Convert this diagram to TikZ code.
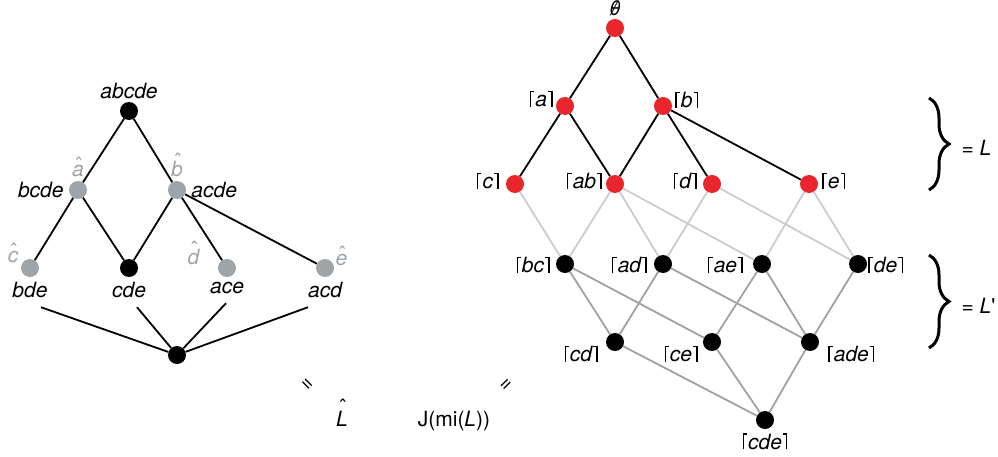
\documentclass[tikz,border=0pt]{standalone}
\usepackage{fontspec}
\setmainfont{TeX Gyre Heros}
\usepackage{tikz}
\usetikzlibrary{positioning, decorations.pathreplacing}
\definecolor{latred}{RGB}{232, 38, 44}
\definecolor{hatgray}{RGB}{158, 164, 168}
\definecolor{edgelight}{RGB}{201, 205, 209}
\definecolor{edgemid}{RGB}{157, 162, 166}
% ceiling brackets and hats
\newcommand{\lcl}{\rule{0.055em}{0.76em}\kern-0.055em\rule[0.705em]{0.2em}{0.055em}\kern0.06em}
\newcommand{\rcl}{\kern0.06em\rule[0.705em]{0.2em}{0.055em}\kern-0.055em\rule{0.055em}{0.76em}}
\newcommand{\ceilset}[1]{\lcl\textit{#1}\rcl}
\newcommand{\hatted}[2][3pt]{\leavevmode\setbox0\hbox{\itshape #2}%
  \ooalign{\copy0\cr\hidewidth\kern0.08em\raisebox{\dimexpr\ht0-0.5em+#1\relax}{\upshape\char"02C6}\hidewidth\cr}}
\newcommand{\emptysym}{\ooalign{\textit{θ}\cr\hidewidth\textit{/}\hidewidth\cr}}

\begin{document}
\begin{tikzpicture}[
        x=1pt, y=-1pt,
        font=\fontsize{21}{24}\selectfont,
        dot/.style={circle, fill=black, minimum size=18pt, inner sep=0pt},
        reddot/.style={dot, fill=latred},
        graydot/.style={dot, fill=hatgray},
        lbl/.style={font=\fontsize{21}{24}\selectfont\itshape, inner sep=1pt},
        hatlbl/.style={lbl, text=hatgray},
        cover/.style={line width=1.8pt},
        lightcover/.style={line width=1.8pt, draw=edgelight},
        midcover/.style={line width=1.8pt, draw=edgemid},
        bracestyle/.style={line width=3pt, decorate, decoration={brace, amplitude=20pt}},
        node distance=2pt,
    ]
        \useasboundingbox (0,0) rectangle (998,457);

        % --- Left lattice: nodes ---
        \node[dot] (abcde) at (129,111) {};
        \node[graydot] (bcde) at (78,190) {};
        \node[graydot] (acde) at (177,190) {};
        \node[graydot] (bde) at (30,268) {};
        \node[dot] (cde) at (129,268) {};
        \node[graydot] (ace) at (227,268) {};
        \node[graydot] (acd) at (325,268) {};
        \node[dot] (bot) at (177,355) {};

        % --- Left lattice: labels ---
        \node[lbl, above=2pt of abcde] (l-abcde) {abcde};
        \node[lbl, left=4pt of bcde] (l-bcde) {bcde};
        \node[lbl, right=4pt of acde] (l-acde) {acde};
        \node[lbl, below=4pt of bde] (l-bde) {bde};
        \node[lbl, below=4pt of cde] (l-cde) {cde};
        \node[lbl, below=4pt of ace] (l-ace) {ace};
        \node[lbl, below=4pt of acd] (l-acd) {acd};
        \node[hatlbl, above=3pt of bcde] (h-a) {\hatted{a}};
        \node[hatlbl, above=3pt of acde] (h-b) {\hatted{b}};
        \node[hatlbl, above left=-2pt and 4pt of bde] (h-c) {\hatted{c}};
        \node[hatlbl, above left=-4pt and 20pt of ace] (h-d) {\hatted{d}};
        \node[hatlbl, above right=-5pt and 3pt of acd] (h-e) {\hatted{e}};

        % --- Left lattice: edges ---
        \draw[cover] (abcde) -- (bcde);
        \draw[cover] (abcde) -- (acde);
        \draw[cover] (bcde) -- (bde);
        \draw[cover] (bcde) -- (cde);
        \draw[cover] (acde) -- (cde);
        \draw[cover] (acde) -- (ace);
        \draw[cover] (acde) -- (acd);
        \draw[cover] ([shift={(11,8)}]l-bde.south) -- (bot);
        \draw[cover] ([shift={(8,8)}]l-cde.south) -- (bot);
        \draw[cover] ([shift={(-1,8)}]l-ace.south) -- (bot);
        \draw[cover] ([shift={(-17,8)}]l-acd.south) -- (bot);

        % --- Middle: equalities ---
        \node[rotate=-45] (eq-left) at (307,385) {=};
        \node[lbl, anchor=base] (lhat) at (342,426) {\hatted[7pt]{L}};
        \node[rotate=45] (eq-right) at (507,385) {=};
        \node (jmi) at (454,421) {J(mi(\textit{L}))};

        % --- Right lattice: nodes ---
        \node[reddot] (jempty) at (615,28) {};
        \node[reddot] (ja) at (565,106) {};
        \node[reddot] (jb) at (663,106) {};
        \node[reddot] (jc) at (515,184) {};
        \node[reddot] (jab) at (615,184) {};
        \node[reddot] (jd) at (712,184) {};
        \node[reddot] (je) at (809,184) {};
        \node[dot] (jbc) at (565,264) {};
        \node[dot] (jad) at (663,264) {};
        \node[dot] (jae) at (762,264) {};
        \node[dot] (jde) at (858,264) {};
        \node[dot] (jcd) at (615,342) {};
        \node[dot] (jce) at (712,342) {};
        \node[dot] (jade) at (810,342) {};
        \node[dot] (jcde) at (765,420) {};

        % --- Right lattice: labels ---
        \node[lbl, above=2pt of jempty, font=\fontsize{20}{22}\selectfont] (l-jempty) {\emptysym};
        \node[lbl, left=2pt of ja, yshift=7pt] (l-ja) {\ceilset{a}};
        \node[lbl, right=2pt of jb, yshift=6pt] (l-jb) {\ceilset{b}};
        \node[lbl, left=6pt of jc, yshift=3pt] (l-jc) {\ceilset{c}};
        \node[lbl, left=3pt of jab, yshift=3pt] (l-jab) {\ceilset{ab}};
        \node[lbl, left=5pt of jd, yshift=3pt] (l-jd) {\ceilset{d}};
        \node[lbl, right=3pt of je, yshift=3pt] (l-je) {\ceilset{e}};
        \node[lbl, left=5pt of jbc, yshift=-1pt] (l-jbc) {\ceilset{bc}};
        \node[lbl, left=6pt of jad, yshift=-1pt] (l-jad) {\ceilset{ad}};
        \node[lbl, left=9pt of jae, yshift=-1pt] (l-jae) {\ceilset{ae}};
        \node[lbl, right=0pt of jde, yshift=-1pt] (l-jde) {\ceilset{de}};
        \node[lbl, left=7pt of jcd, yshift=-12pt] (l-jcd) {\ceilset{cd}};
        \node[lbl, left=4pt of jce, yshift=-12pt] (l-jce) {\ceilset{ce}};
        \node[lbl, right=8pt of jade, yshift=-12pt] (l-jade) {\ceilset{ade}};
        \node[lbl, below=3pt of jcde] (l-jcde) {\ceilset{cde}};

        % --- Right lattice: edges of L ---
        \draw[cover] (jempty) -- (ja);
        \draw[cover] (jempty) -- (jb);
        \draw[cover] (ja) -- (jc);
        \draw[cover] (ja) -- (jab);
        \draw[cover] (jb) -- (jab);
        \draw[cover] (jb) -- (jd);
        \draw[cover] (jb) -- (je);

        % --- L down to L' ---
        \draw[lightcover] (jc) -- (jbc);
        \draw[lightcover] (jab) -- (jbc);
        \draw[lightcover] (jab) -- (jad);
        \draw[lightcover] (jab) -- (jae);
        \draw[lightcover] (jd) -- (jad);
        \draw[lightcover] (jd) -- (jde);
        \draw[lightcover] (je) -- (jae);
        \draw[lightcover] (je) -- (jde);

        % --- Edges of L' ---
        \draw[midcover] (jbc) -- (jcd);
        \draw[midcover] (jbc) -- (jce);
        \draw[midcover] (jad) -- (jcd);
        \draw[midcover] (jad) -- (jade);
        \draw[midcover] (jae) -- (jce);
        \draw[midcover] (jae) -- (jade);
        \draw[midcover] (jde) -- (jade);
        \draw[midcover] (jcd) -- (jcde);
        \draw[midcover] (jce) -- (jcde);
        \draw[midcover] (jade) -- (jcde);

        % --- Braces ---
        \coordinate (brace1top) at (929,98);
        \coordinate (brace1bot) at (929,190);
        \coordinate (brace2top) at (929,255);
        \coordinate (brace2bot) at (929,348);
        \draw[bracestyle] (brace1top) -- (brace1bot) node[midway, right=31pt, yshift=-4pt, inner sep=0pt] (eq-L) {= \textit{L}};
        \draw[bracestyle] (brace2top) -- (brace2bot) node[midway, right=31pt, yshift=-4pt, inner sep=0pt] (eq-Lp) {= \textit{L}\textquotesingle};

    \end{tikzpicture}
\end{document}
